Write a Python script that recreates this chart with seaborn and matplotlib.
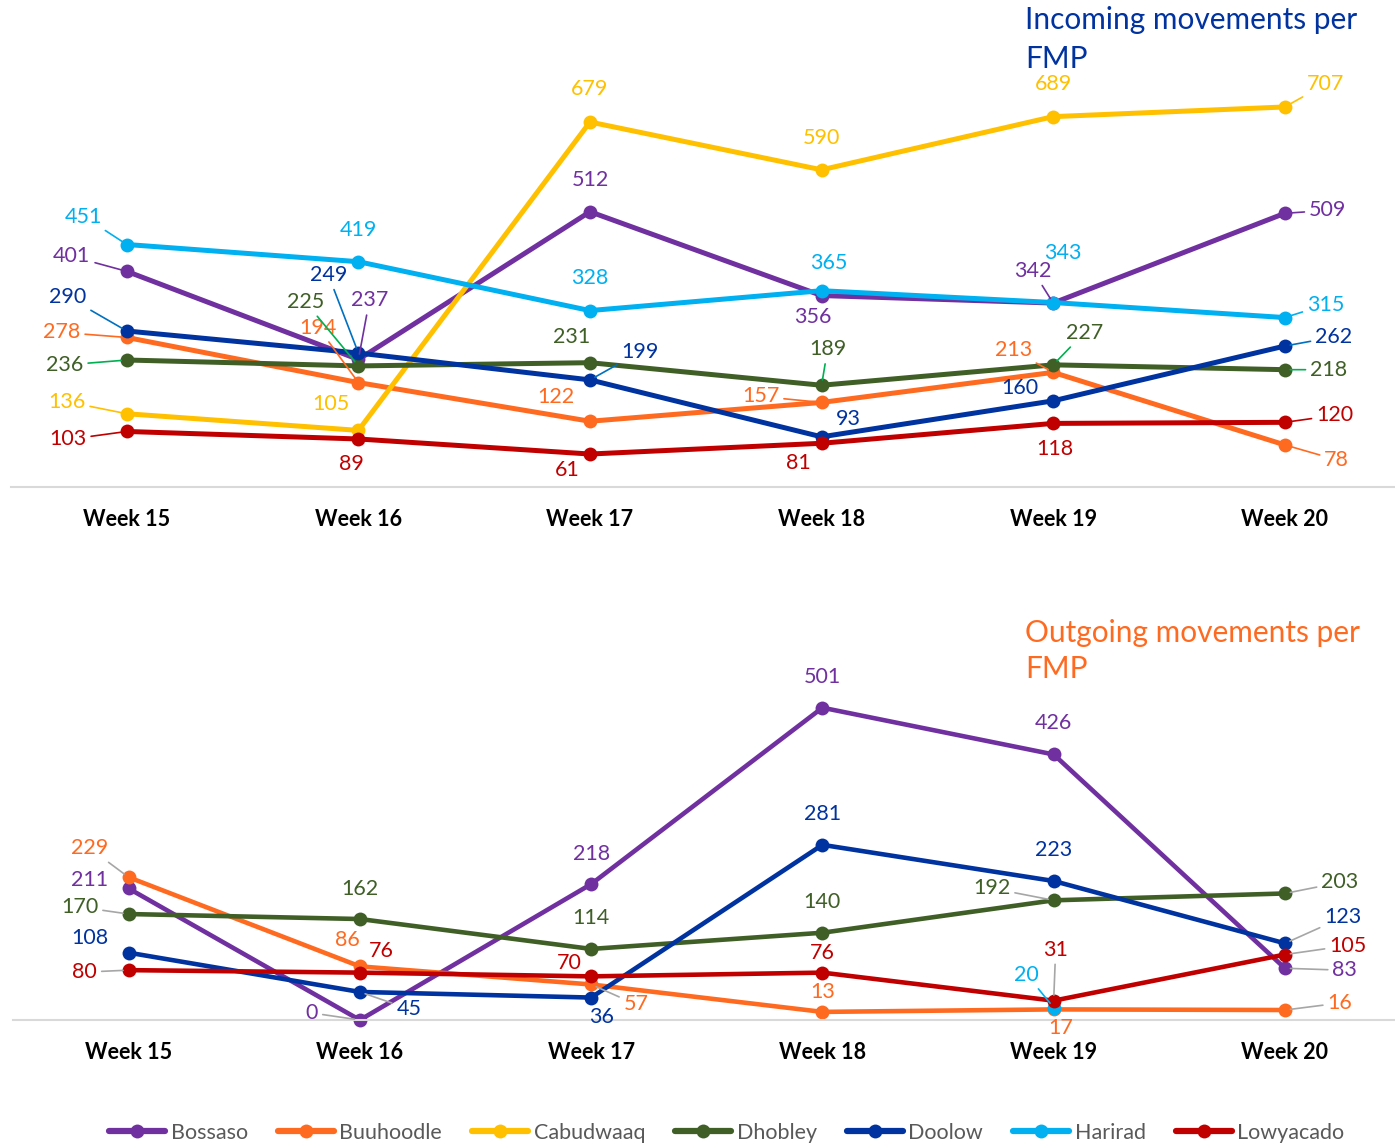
import seaborn as sns
import matplotlib.pyplot as plt
import numpy as np
import pandas as pd
from matplotlib.lines import Line2D


# ---------- DATA ---------- #

weeks = ["Week 15", "Week 16", "Week 17", "Week 18", "Week 19", "Week 20"]
fmps = ["Bossaso", "Buuhoodle", "Cabudwaaq", "Dhobley", "Doolow", "Harirad", "Lowyacado"]

incoming = {
    "Bossaso":   [401, 237, 512, 356, 342, 509],
    "Buuhoodle": [278, 194, 122, 157, 213, 78],
    "Cabudwaaq": [136, 105, 679, 590, 689, 707],
    "Dhobley":   [236, 225, 231, 189, 227, 218],
    "Doolow":    [290, 249, 199, 93, 160, 262],
    "Harirad":   [451, 419, 328, 365, 343, 315],
    "Lowyacado": [103, 89, 61, 81, 118, 120],
}

outgoing = {
    "Bossaso":   [211, 0, 218, 501, 426, 83],
    "Buuhoodle": [229, 86, 57, 13, 17, 16],
    "Dhobley":   [170, 162, 114, 140, 192, 203],
    "Doolow":    [108, 45, 36, 281, 223, 123],
    "Harirad":   [np.nan, np.nan, np.nan, np.nan, 20, np.nan],
    "Lowyacado": [80, 76, 70, 76, 31, 105],
}

colors = {
    "Bossaso": "#7030A0",
    "Buuhoodle": "#FF6A21",
    "Cabudwaaq": "#FFC000",
    "Dhobley": "#3F5F27",
    "Doolow": "#0033A0",
    "Harirad": "#00B0F0",
    "Lowyacado": "#C00000",
}
leader_top = dict(colors, Dhobley="#00B050", Doolow="#0070C0")


# ---------- LABEL PLACEMENT (pixel offsets, leader flag) ---------- #

top_offsets = {
    "Bossaso":   [(-55, 15, 1), (11, 59, 1), (0, 32, 0), (-9, -21, 0), (-20, 32, 1), (43, 3, 1)],
    "Buuhoodle": [(-65, 5, 1), (-40, 55, 1), (-34, 24, 0), (-61, 6, 1), (-40, 22, 1), (52, -15, 1)],
    "Cabudwaaq": [(-60, 12, 1), (-27, 26, 0), (0, 33, 0), (0, 32, 0), (0, 33, 0), (41, 23, 1)],
    "Dhobley":   [(-62, -5, 1), (-53, 64, 1), (-18, 26, 0), (6, 36, 1), (31, 32, 1), (44, 0, 1)],
    "Doolow":    [(-59, 34, 1), (-30, 78, 1), (50, 28, 1), (27, 18, 0), (-33, 13, 0), (49, 9, 1)],
    "Harirad":   [(-43, 28, 1), (0, 32, 0), (0, 33, 0), (7, 28, 0), (10, 50, 0), (41, 13, 1)],
    "Lowyacado": [(-59, -8, 1), (-7, -25, 0), (-23, -16, 0), (-23, -20, 0), (2, -26, 0), (50, 7, 1)],
}

bottom_offsets = {
    "Bossaso":   [(-39, 8, 0), (-48, 7, 1), (0, 30, 0), (0, 31, 0), (0, 31, 0), (60, -2, 1)],
    "Buuhoodle": [(-39, 29, 1), (-13, 26, 0), (45, -20, 1), (0, 20, 0), (7, -19, 0), (55, 7, 1)],
    "Dhobley":   [(-49, 7, 1), (0, 30, 0), (0, 31, 0), (0, 31, 0), (-62, 12, 1), (55, 11, 1)],
    "Doolow":    [(-39, 15, 0), (49, -17, 1), (10, -19, 0), (0, 31, 0), (0, 31, 0), (58, 26, 1)],
    "Harirad":   [None, None, None, None, (-27, 33, 1), None],
    "Lowyacado": [(-44, -2, 1), (21, 22, 0), (-22, 13, 0), (0, 20, 0), (2, 51, 1), (63, 9, 1)],
}


def to_long(table):
    rows = []
    for fmp, vals in table.items():
        for i, v in enumerate(vals):
            if not np.isnan(v):
                rows.append({"fmp": fmp, "x": i, "count": v})
    return pd.DataFrame(rows)


def draw_panel(ax, table, offsets, leader_colors, ymax, lw):
    df = to_long(table)
    order = [f for f in fmps if f in table]
    sns.lineplot(data=df, x="x", y="count", hue="fmp", hue_order=order,
                 palette=colors, marker="o", markersize=10, markeredgewidth=0,
                 linewidth=lw, legend=False, ax=ax, clip_on=False,
                 solid_joinstyle="round")

    for fmp in order:
        for i, v in enumerate(table[fmp]):
            off = offsets[fmp][i]
            if np.isnan(v) or off is None:
                continue
            dx, dy, leader = off
            arrow = None
            if leader:
                arrow = dict(arrowstyle="-", color=leader_colors[fmp], lw=1.2,
                             shrinkA=1, shrinkB=4)
            ax.annotate(f"{int(v)}", xy=(i, v), xytext=(dx, dy),
                        textcoords="offset pixels", ha="center", va="center",
                        color=colors[fmp], fontsize=15.5, arrowprops=arrow,
                        annotation_clip=False)

    ax.set_xlim(-0.5, 5.476)
    ax.set_ylim(0, ymax)
    ax.set_xticks(range(len(weeks)))
    ax.set_xticklabels(weeks, fontweight="bold", fontsize=15.5, color="black")
    ax.set_yticks([])
    ax.set_xlabel("")
    ax.set_ylabel("")
    ax.tick_params(axis="x", length=0, pad=16)
    for side in ["top", "left", "right"]:
        ax.spines[side].set_visible(False)
    ax.spines["bottom"].set_color("#D9D9D9")
    ax.spines["bottom"].set_linewidth(1.5)
    ax.set_facecolor("none")


sns.set_theme(style="white")
plt.rcParams["font.family"] = ["Lato", "DejaVu Sans"]

fig = plt.figure(figsize=(13.95, 11.46), dpi=100)
W, H = 1395, 1146

ax1 = fig.add_axes([11 / W, 1 - 486.8 / H, (W - 11) / W, (486.8 - 57) / H])
draw_panel(ax1, incoming, top_offsets, leader_top, 800, 3.6)

gray = {f: "#A6A6A6" for f in fmps}
gray["Harirad"] = colors["Harirad"]
ax2 = fig.add_axes([13 / W, 1 - 1020 / H, (W - 13) / W, (1020 - 646) / H])
draw_panel(ax2, outgoing, bottom_offsets, gray, 600, 3.3)

fig.text(1025 / W, 1 - 6 / H, "Incoming movements per\nFMP", ha="left", va="top",
         fontsize=21.5, color="#0033A0", linespacing=1.5)
fig.text(1025 / W, 1 - 619 / H, "Outgoing movements per\nFMP", ha="left", va="top",
         fontsize=21.5, color="#FF6A21", linespacing=1.35)

handles = [Line2D([], [], color=colors[f], lw=4.5, marker="o", markersize=10,
                  markeredgewidth=0) for f in fmps]
fig.legend(handles, fmps, loc="center", bbox_to_anchor=(0.521, 1 - 1133 / H),
           ncol=7, frameon=False, fontsize=15.5, handlelength=2.6,
           handletextpad=0.25, columnspacing=1.4, labelcolor="#595959")

fig.savefig("out.png", dpi=100)
